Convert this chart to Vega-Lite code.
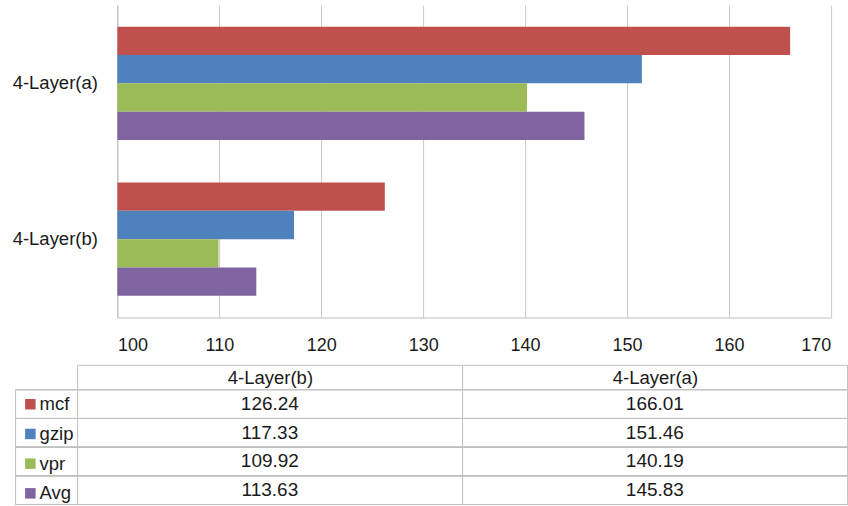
{
  "$schema": "https://vega.github.io/schema/vega-lite/v6.json",
  "background": "white",
  "padding": {"left": 11.1, "top": 5, "right": 0, "bottom": 0},
  "data": {
    "values": [
      {"category": "4-Layer(a)", "series": "mcf", "value": 166.01},
      {"category": "4-Layer(a)", "series": "gzip", "value": 151.46},
      {"category": "4-Layer(a)", "series": "vpr", "value": 140.19},
      {"category": "4-Layer(a)", "series": "Avg", "value": 145.83},
      {"category": "4-Layer(b)", "series": "mcf", "value": 126.24},
      {"category": "4-Layer(b)", "series": "gzip", "value": 117.33},
      {"category": "4-Layer(b)", "series": "vpr", "value": 109.92},
      {"category": "4-Layer(b)", "series": "Avg", "value": 113.63}
    ]
  },
  "bounds": "flush",
  "spacing": 71.8,
  "vconcat": [
    {
      "width": 833,
      "height": 312.5,
      "mark": {"type": "bar"},
      "encoding": {
        "y": {
          "field": "category",
          "type": "nominal",
          "sort": ["4-Layer(a)", "4-Layer(b)"],
          "scale": {"paddingInner": 0.272, "paddingOuter": 0.139},
          "axis": {
            "title": null,
            "orient": "left",
            "offset": -102.3,
            "ticks": false,
            "domainColor": "#bfbfbf",
            "labelFontSize": 18.5,
            "labelPadding": 20,
            "labelColor": "#1a1a1a"
          }
        },
        "yOffset": {
          "field": "series",
          "type": "nominal",
          "sort": ["mcf", "gzip", "vpr", "Avg"],
          "scale": {"paddingInner": 0, "paddingOuter": 0}
        },
        "x": {
          "field": "value",
          "type": "quantitative",
          "scale": {"domain": [100, 170], "range": [102.3, 815.7], "nice": false, "zero": false},
          "axis": {
            "title": null,
            "values": [100, 110, 120, 130, 140, 150, 160, 170],
            "grid": true,
            "gridColor": "#c8c8c8",
            "ticks": false,
            "domainColor": "#bfbfbf",
            "labelFontSize": 18,
            "labelPadding": 19,
            "labelColor": "#1a1a1a"
          }
        },
        "x2": {"datum": 100},
        "color": {
          "field": "series",
          "type": "nominal",
          "scale": {
            "domain": ["mcf", "gzip", "vpr", "Avg"],
            "range": ["#c0504d", "#4f81bd", "#9bbb59", "#8064a2"]
          },
          "legend": {
            "title": null,
            "orient": "none",
            "legendX": 6,
            "legendY": 390,
            "symbolType": "square",
            "symbolSize": 110,
            "symbolStrokeWidth": 0,
            "symbolOpacity": 1,
            "labelFontSize": 18.5,
            "labelOffset": 0,
            "rowPadding": 10.7,
            "labelColor": "#1a1a1a"
          }
        }
      }
    },
    {
      "width": 832.5,
      "height": 114.7,
      "encoding": {
        "y": {
          "field": "series",
          "type": "nominal",
          "sort": ["mcf", "gzip", "vpr", "Avg"],
          "scale": {"paddingInner": 0, "paddingOuter": 0},
          "axis": {
            "title": null,
            "labels": false,
            "ticks": false,
            "grid": false,
            "domain": true,
            "domainColor": "#bfbfbf"
          }
        }
      },
      "layer": [
        {
          "mark": {"type": "rule", "color": "#bfbfbf", "strokeWidth": 1},
          "encoding": {
            "y": {"field": "series", "type": "nominal", "sort": ["mcf", "gzip", "vpr", "Avg"], "bandPosition": 0}
          }
        },
        {
          "mark": {"type": "rule", "color": "#bfbfbf", "strokeWidth": 1},
          "encoding": {
            "y": {"field": "series", "type": "nominal", "sort": ["mcf", "gzip", "vpr", "Avg"], "bandPosition": 1}
          }
        },
        {
          "mark": {"type": "text", "fontSize": 19, "color": "#1a1a1a"},
          "encoding": {
            "x": {
              "field": "category",
              "type": "nominal",
              "sort": ["4-Layer(b)", "4-Layer(a)"],
              "scale": {"range": [62.3, 832.3], "paddingInner": 0, "paddingOuter": 0},
              "axis": {
                "title": null,
                "orient": "top",
                "offset": 25,
                "tickBand": "extent",
                "tickSize": -25,
                "tickColor": "#bfbfbf",
                "grid": true,
                "gridColor": "#bfbfbf",
                "domainColor": "#bfbfbf",
                "labelAngle": 0,
                "labelBaseline": "middle",
                "labelPadding": 12.5,
                "labelFontSize": 18.5,
                "labelColor": "#1a1a1a"
              }
            },
            "text": {"field": "value", "type": "quantitative", "format": ".2f"}
          }
        }
      ]
    }
  ],
  "config": {
    "font": "Liberation Sans",
    "view": {"stroke": null},
    "axis": {"labelFont": "Liberation Sans", "gridWidth": 1, "domainWidth": 1},
    "legend": {"labelFont": "Liberation Sans"}
  }
}
